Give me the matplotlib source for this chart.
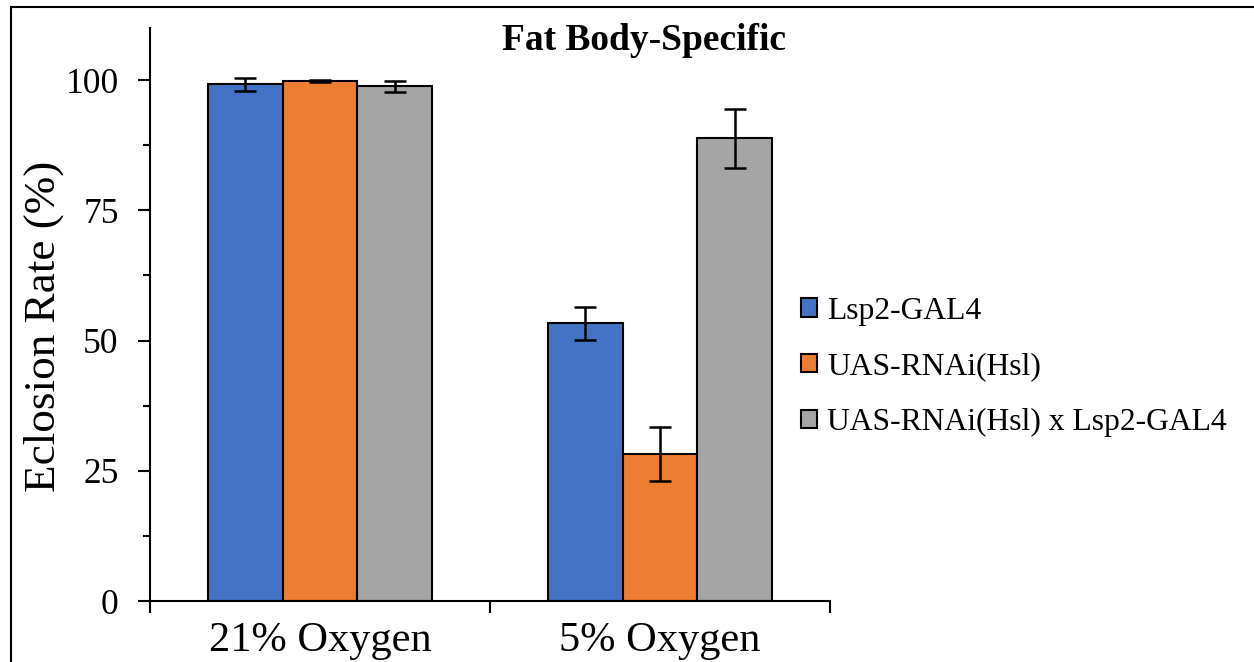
import matplotlib.pyplot as plt
import numpy as np
from matplotlib.lines import Line2D
from matplotlib.patches import Patch

conditions = ['21% Oxygen', '5% Oxygen']
genotypes = ['Lsp2-GAL4', 'UAS-RNAi(Hsl)', 'UAS-RNAi(Hsl) x Lsp2-GAL4']
rates = [[99.2, 53.3],
         [99.8, 28.2],
         [98.8, 88.8]]
errors = [[1.2, 3.1],
          [0.2, 5.2],
          [1.0, 5.6]]
colors = ['#4472C4', '#ED7D31', '#A5A5A5']

plt.rcParams['font.family'] = ['Liberation Serif', 'DejaVu Serif']

fig = plt.figure(figsize=(12.54, 6.62), dpi=100)
ax = fig.add_axes([150 / 1254, 61 / 662, 680 / 1254, 573 / 662])

x = np.arange(len(conditions))
width = 0.22
for i in range(len(genotypes)):
    ax.bar(x + (i - 1) * width, rates[i], width, color=colors[i],
           edgecolor='black', linewidth=1.5, label=genotypes[i],
           yerr=errors[i], capsize=8,
           error_kw={'elinewidth': 1.8, 'capthick': 1.8, 'ecolor': 'black'})

ax.set_xlim(-0.5, 1.5)
ax.set_ylim(0, 110)
ax.set_yticks([0, 25, 50, 75, 100])
ax.set_yticks(np.arange(12.5, 110, 25), minor=True)
ax.tick_params(axis='y', which='major', labelsize=25.5, length=8.5, width=1.5,
               direction='out', pad=14)
ax.tick_params(axis='y', which='minor', length=5, width=1.5, direction='out')

ax.set_xticks([-0.5, 0.5, 1.5])
ax.set_xticklabels([])
ax.set_xticks(x, minor=True)
ax.set_xticklabels(conditions, minor=True)
ax.tick_params(axis='x', which='major', length=8.5, width=1.5, direction='out')
ax.tick_params(axis='x', which='minor', length=0, labelsize=30.5, pad=15)

for side in ['top', 'right']:
    ax.spines[side].set_visible(False)
for side in ['left', 'bottom']:
    ax.spines[side].set_linewidth(1.5)

ax.set_ylabel('Eclosion Rate (%)', fontsize=32.5)
ax.yaxis.set_label_coords(-0.126, 0.48)

fig.text(644 / 1254, 1 - 40 / 662, 'Fat Body-Specific', fontsize=27,
         fontweight='bold', ha='center', va='center')

handles = [Patch(facecolor=c, edgecolor='black', linewidth=1.5) for c in colors]
fig.legend(handles, genotypes, loc='center left',
           bbox_to_anchor=(801 / 1254, 1 - 367 / 662), frameon=False,
           fontsize=22.75, handlelength=0.52, handleheight=0.52,
           handletextpad=0.3, labelspacing=0.85, borderpad=0, borderaxespad=0)

# outer frame (top and left edges visible)
fig.add_artist(Line2D([11 / 1254, 1], [1 - 7 / 662, 1 - 7 / 662],
                      transform=fig.transFigure, color='black', linewidth=1.5))
fig.add_artist(Line2D([11 / 1254, 11 / 1254], [0, 1 - 7 / 662],
                      transform=fig.transFigure, color='black', linewidth=1.5))

fig.savefig('out.png', dpi=100)
